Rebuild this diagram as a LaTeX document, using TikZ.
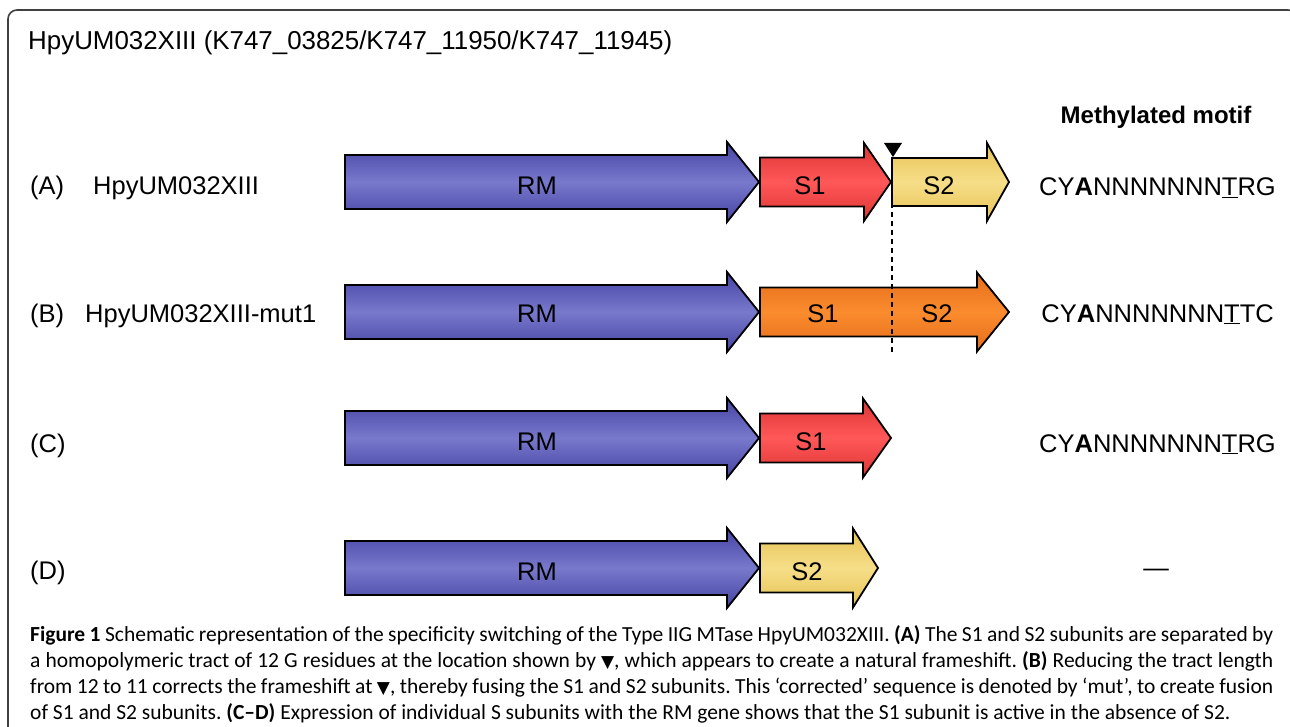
\documentclass[tikz,border=0pt]{standalone}
\usepackage{fontspec}
\setmainfont{Liberation Sans}
\newfontfamily\capfont{Carlito}
\newfontfamily\symfont{DejaVu Sans}
\definecolor{rmdark}{HTML}{4444A4}
\definecolor{rmlight}{HTML}{7878CC}
\definecolor{sadark}{HTML}{DD3333}
\definecolor{salight}{HTML}{FF5858}
\definecolor{sbdark}{HTML}{E6C255}
\definecolor{sblight}{HTML}{F6DE88}
\definecolor{fudark}{HTML}{E46C1A}
\definecolor{fulight}{HTML}{FB8C2E}
\definecolor{framegray}{HTML}{404040}
\newcommand\genearrow[7]{%
  \path[#7] (#1,#4-#5) -- (#2,#4-#5) -- (#2,#4-#6) -- (#3,#4) -- (#2,#4+#6)
    -- (#2,#4+#5) -- (#1,#4+#5) -- cycle;}
\newcommand\tri{{\symfont\fontsize{17}{17}\selectfont ▼}}
\tikzset{
  gene/.style={draw=black, line width=1.8pt, line join=miter},
  rmgene/.style={gene, top color=rmdark, bottom color=rmdark, middle color=rmlight},
  sagene/.style={gene, top color=sadark, bottom color=sadark, middle color=salight},
  sbgene/.style={gene, top color=sbdark, bottom color=sbdark, middle color=sblight},
  fugene/.style={gene, top color=fudark, bottom color=fudark, middle color=fulight},
  lbl/.style={inner sep=0pt, font=\fontsize{25.5}{30}\selectfont},
  capline/.style={inner sep=0pt, anchor=base west, font=\capfont\fontsize{21.5}{26}\selectfont\frenchspacing},
}
\begin{document}
\begin{tikzpicture}[x=1pt,y=-1pt]
\useasboundingbox (0,0) rectangle (1290,727);
\clip (0,0) rectangle (1290,727);
\fill[white] (0,0) rectangle (1290,727);
% frame
\draw[framegray, line width=1.6pt, rounded corners=9pt] (8,10) rectangle (1297,780);
% title
\node[lbl, anchor=base west, font=\fontsize{25.9}{31}\selectfont] (title) at (28,50) {HpyUM032XIII (K747\_03825/K747\_11950/K747\_11945)};
\node[lbl, anchor=base, font=\bfseries\fontsize{24}{28}\selectfont] (hdr) at (1156,124) {Methylated motif};
% row labels
\node[lbl, anchor=base west] (la) at (30,195) {(A)};
\node[lbl, anchor=base west] (na) at (93,195) {HpyUM032XIII};
\node[lbl, anchor=base west] (lb) at (30,323) {(B)};
\node[lbl, anchor=base west] (nb) at (85,323) {HpyUM032XIII-mut1};
\node[lbl, anchor=base west] (lc) at (30,452) {(C)};
\node[lbl, anchor=base west] (ld) at (30,579) {(D)};
% row A
\genearrow{345}{727}{759}{182}{27}{40}{rmgene}
\genearrow{760}{864}{891}{182}{24.5}{39}{sagene}
\genearrow{892}{987}{1009}{182}{24}{39}{sbgene}
\node[lbl, anchor=base] (rma) at (537,195) {RM};
\node[lbl, anchor=base] (s1a) at (810,195) {S1};
\node[lbl, anchor=base] (s2a) at (939,195) {S2};
% row B
\genearrow{345}{727}{759}{312}{27}{40}{rmgene}
\genearrow{760}{977}{1009}{312}{24.5}{39.5}{fugene}
\node[lbl, anchor=base] (rmb) at (537,323) {RM};
\node[lbl, anchor=base] (s1b) at (823,323) {S1};
\node[lbl, anchor=base] (s2b) at (937,323) {S2};
% row C
\genearrow{345}{727}{759}{438}{27}{40}{rmgene}
\genearrow{760}{863}{891}{438}{24.5}{39.5}{sagene}
\node[lbl, anchor=base] (rmc) at (537,450) {RM};
\node[lbl, anchor=base] (s1c) at (811,450) {S1};
% row D
\genearrow{345}{727}{759}{568}{27}{40}{rmgene}
\genearrow{760}{853}{878}{568}{24.5}{39.5}{sbgene}
\node[lbl, anchor=base] (rmd) at (537,580) {RM};
\node[lbl, anchor=base] (s2d) at (807,580) {S2};
% frameshift marker
\coordinate (mk) at (893,157);
\coordinate (mkend) at (892,352);
\fill[black] (884,143) -- (902,143) -- (mk) -- cycle;
\draw[black, line width=1.1pt, dash pattern=on 5pt off 4pt] (892,158) -- (mkend);
% motifs
\node[lbl, anchor=base east] (ma) at (1276,196) {CY\textbf{A}NNNNNNN\underline{T}RG};
\node[lbl, anchor=base east] (mb) at (1274,322) {CY\textbf{A}NNNNNNN\underline{T}TC};
\node[lbl, anchor=base east] (mc) at (1276,452) {CY\textbf{A}NNNNNNN\underline{T}RG};
\node[lbl, anchor=center] (md) at (1156,573) {\textemdash};
% caption
\node[capline] (c1) at (30,641) {\makebox[1243pt][s]{\textbf{Figure 1} Schematic representation of the specificity switching of the Type IIG MTase HpyUM032XIII. \textbf{(A)} The S1 and S2 subunits are separated by}};
\node[capline] (c2) at (30,667) {\makebox[1243pt][s]{a homopolymeric tract of 12 G residues at the location shown by \tri, which appears to create a natural frameshift. \textbf{(B)} Reducing the tract length}};
\node[capline] (c3) at (30,693) {\makebox[1243pt][s]{from 12 to 11 corrects the frameshift at \tri, thereby fusing the S1 and S2 subunits. This ‘corrected’ sequence is denoted by ‘mut’, to create fusion}};
\node[capline] (c4) at (30,719) {of S1 and S2 subunits. \textbf{(C–D)} Expression of individual S subunits with the RM gene shows that the S1 subunit is active in the absence of S2.};
\end{tikzpicture}
\end{document}
